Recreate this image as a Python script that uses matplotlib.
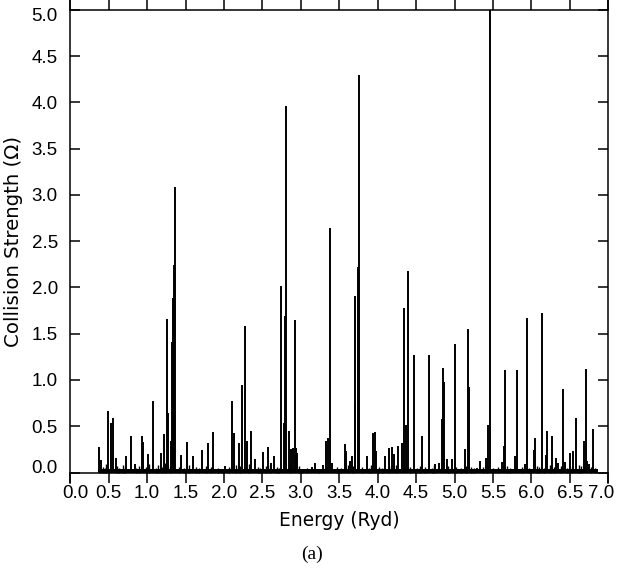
import matplotlib
matplotlib.use("Agg")
import matplotlib.pyplot as plt
import matplotlib.transforms as mtransforms

# ---- data ----
peak_energy = [0.368, 0.40, 0.486, 0.525, 0.555, 0.59, 0.73, 0.79, 0.84, 0.93, 0.95, 1.007,
               1.076, 1.176, 1.215, 1.258, 1.276, 1.315, 1.328, 1.339, 1.349, 1.367,
               1.445, 1.518, 1.596, 1.719, 1.797, 1.862, 2.01, 2.104, 2.135, 2.19, 2.24,
               2.279, 2.296, 2.357, 2.40, 2.504, 2.569, 2.617, 2.651, 2.747, 2.777, 2.80,
               2.813, 2.846, 2.868, 2.898, 2.92, 2.943, 2.956, 3.146, 3.19, 3.29, 3.328,
               3.354, 3.38, 3.41, 3.572, 3.589, 3.637, 3.659, 3.702, 3.708, 3.737, 3.754,
               3.858, 3.932, 3.958, 3.984, 4.10, 4.141, 4.184, 4.21, 4.27, 4.31, 4.34,
               4.362, 4.388, 4.47, 4.574, 4.661, 4.747, 4.80, 4.835, 4.852, 4.861, 4.90,
               4.97, 5.004, 5.13, 5.173, 5.19, 5.287, 5.33, 5.408, 5.434, 5.46, 5.616,
               5.638, 5.651, 5.785, 5.807, 5.915, 5.941, 6.03, 6.046, 6.133, 6.193, 6.206,
               6.267, 6.32, 6.35, 6.41, 6.436, 6.50, 6.544, 6.58, 6.68, 6.706, 6.726,
               6.75, 6.797]
peak_height = [0.28, 0.14, 0.66, 0.53, 0.59, 0.16, 0.18, 0.40, 0.09, 0.40, 0.33, 0.20,
               0.77, 0.21, 0.42, 1.66, 0.64, 0.34, 1.41, 1.89, 2.24, 3.08,
               0.19, 0.33, 0.18, 0.24, 0.32, 0.44, 0.07, 0.77, 0.43, 0.32, 0.95,
               1.58, 0.34, 0.45, 0.15, 0.22, 0.28, 0.10, 0.18, 2.02, 0.54, 1.69,
               3.96, 0.45, 0.25, 0.27, 1.65, 0.27, 0.21, 0.06, 0.10, 0.08, 0.34,
               0.37, 2.64, 0.10, 0.31, 0.23, 0.12, 0.18, 0.74, 1.91, 2.22, 4.30,
               0.18, 0.43, 0.44, 0.23, 0.18, 0.26, 0.28, 0.20, 0.29, 0.32, 1.78,
               0.51, 2.18, 1.27, 0.39, 1.27, 0.09, 0.10, 0.58, 1.13, 0.98, 0.15,
               0.15, 1.39, 0.25, 1.55, 0.92, 0.05, 0.13, 0.16, 0.51, 5.00, 0.11,
               0.29, 1.11, 0.18, 1.11, 0.09, 1.67, 0.24, 0.37, 1.72, 0.19, 0.45,
               0.40, 0.16, 0.10, 0.90, 0.11, 0.21, 0.23, 0.59, 0.34, 1.12, 0.13,
               0.09, 0.47]

small_energy = [0.38, 0.42, 0.45, 0.47, 0.61, 0.64, 0.68, 0.71, 0.86, 0.89, 0.98, 1.03,
                1.11, 1.14, 1.19, 1.23, 1.30, 1.41, 1.48, 1.55, 1.63, 1.67, 1.76, 1.83,
                1.92, 1.97, 2.06, 2.16, 2.21, 2.32, 2.44, 2.47, 2.54, 2.60, 2.69, 2.71,
                2.86, 2.98, 3.02, 3.08, 3.24, 3.47, 3.52, 3.61, 3.68, 3.80, 3.88, 3.91,
                4.02, 4.06, 4.15, 4.24, 4.42, 4.51, 4.55, 4.62, 4.70, 4.73, 4.92, 5.02,
                5.08, 5.15, 5.22, 5.25, 5.37, 5.42, 5.50, 5.56, 5.68, 5.72, 5.88, 5.97,
                6.07, 6.10, 6.16, 6.24, 6.29, 6.38, 6.46, 6.53, 6.62, 6.65, 6.77, 6.83]
small_height = [0.08, 0.06, 0.05, 0.09, 0.07, 0.05, 0.08, 0.06, 0.05, 0.07, 0.06, 0.09,
                0.05, 0.08, 0.06, 0.10, 0.07, 0.06, 0.05, 0.08, 0.06, 0.05, 0.07, 0.06,
                0.05, 0.04, 0.06, 0.08, 0.07, 0.09, 0.06, 0.05, 0.07, 0.08, 0.06, 0.05,
                0.09, 0.07, 0.04, 0.05, 0.04, 0.06, 0.05, 0.08, 0.07, 0.06, 0.05, 0.08,
                0.06, 0.05, 0.07, 0.08, 0.06, 0.05, 0.07, 0.06, 0.05, 0.08, 0.07, 0.06,
                0.05, 0.07, 0.06, 0.05, 0.06, 0.08, 0.05, 0.06, 0.07, 0.05, 0.06, 0.05,
                0.07, 0.06, 0.05, 0.08, 0.06, 0.07, 0.05, 0.06, 0.08, 0.07, 0.06, 0.05]

background_energy = [0.36, 6.86]
background_level = [0.035, 0.035]

x_ticks = [0.0, 0.5, 1.0, 1.5, 2.0, 2.5, 3.0, 3.5, 4.0, 4.5, 5.0, 5.5, 6.0, 6.5, 7.0]
y_ticks = [0.0, 0.5, 1.0, 1.5, 2.0, 2.5, 3.0, 3.5, 4.0, 4.5, 5.0]

# ---- figure ----
W, H = 623, 572
fig = plt.figure(figsize=(W / 100, H / 100), dpi=100)
ax = fig.add_axes([70.3 / W, (H - 483) / H, 538 / W, 483 / H])

ax.fill_between(background_energy, 0, background_level, color="black", lw=0)
ax.vlines(small_energy, 0, small_height, color="black", lw=1.0)
ax.vlines(peak_energy, 0, peak_height, color="black", lw=1.4)

ax.set_xlim(0, 7)
ax.set_ylim(-0.113, 5.106)

ax.spines["bottom"].set_position(("data", 0.0))
ax.spines["top"].set_position(("data", 5.0))
for s in ax.spines.values():
    s.set_linewidth(1.1)
    s.set_color("black")

ax.set_xticks(x_ticks)
ax.set_xticklabels([f"{v:.1f}" for v in x_ticks])
ax.set_yticks(y_ticks)
ax.set_yticklabels([f"{v:.1f}" for v in y_ticks])

ax.tick_params(axis="x", which="both", direction="out", length=7.3, width=1.1,
               top=True, bottom=True, labeltop=False, labelbottom=True, pad=2.0,
               labelsize=13.5)
ax.tick_params(axis="y", which="both", direction="in", length=7.3, width=1.1,
               left=True, right=True, labelleft=True, labelright=False, pad=9.0,
               labelsize=13.5)
for lab in ax.get_xticklabels() + ax.get_yticklabels():
    lab.set_fontfamily("Liberation Sans")


def shift(label, dx, dy):
    label.set_transform(label.get_transform() +
                        mtransforms.ScaledTranslation(dx / 100, dy / 100, fig.dpi_scale_trans))


ylabs = ax.get_yticklabels()
shift(ylabs[0], 0, 6)
shift(ylabs[-1], 0, -5)
xlabs = ax.get_xticklabels()
shift(xlabs[0], 5, 0)
shift(xlabs[-1], -7, 0)

fig.text(339 / W, 1 - 521 / H, "Energy (Ryd)", ha="center", va="center",
         fontsize=13.4, family="DejaVu Sans")
fig.text(14 / W, 1 - 241 / H, "Collision Strength (\u03a9)", ha="center", va="center",
         rotation=90, fontsize=14.2, family="DejaVu Sans")
fig.text(311.5 / W, 1 - 554 / H, "(a)", ha="center", va="center",
         fontsize=14, family="Liberation Serif")

fig.savefig("out.png", dpi=100)
